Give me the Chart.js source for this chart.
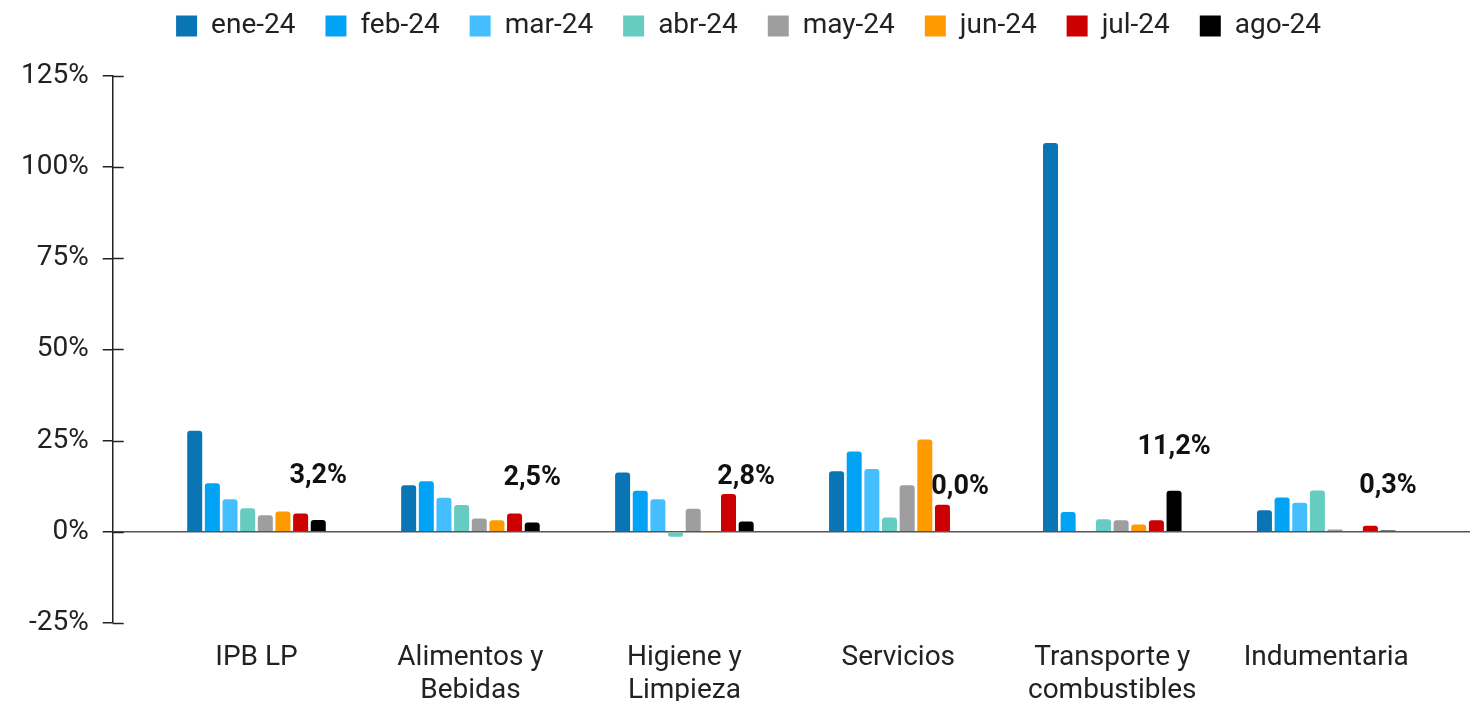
<!DOCTYPE html>
<html lang="es">
<head>
    <meta charset="UTF-8">
    <title>Variación por rubro</title>
    <script src="https://cdn.jsdelivr.net/npm/chart.js"></script>
    <style>
        body { margin: 0; background: #fff; }
    </style>
</head>
<body>
    <canvas id="barChart" width="1478" height="701"></canvas>
    <script>
// categorias y series (variacion mensual, %)
const categorias = ['IPB LP', ['Alimentos y', 'Bebidas'], ['Higiene y', 'Limpieza'], 'Servicios', ['Transporte y', 'combustibles'], 'Indumentaria'];
const meses = ['ene-24', 'feb-24', 'mar-24', 'abr-24', 'may-24', 'jun-24', 'jul-24', 'ago-24'];
const ene24 = [27.7, 12.7, 16.2, 16.6, 106.6, 5.9];
const feb24 = [13.3, 13.8, 11.2, 22.0, 5.4, 9.4];
const mar24 = [8.9, 9.3, 8.9, 17.2, 0, 7.9];
const abr24 = [6.4, 7.3, -1.4, 3.9, 3.4, 11.3];
const may24 = [4.5, 3.6, 6.3, 12.7, 3.1, 0.6];
const jun24 = [5.5, 3.1, -0.3, 25.3, 2.0, 0];
const jul24 = [5.0, 5.0, 10.3, 7.4, 3.1, 1.6];
const ago24 = [3.2, 2.5, 2.8, 0.0, 11.2, 0.3];
const colores = ['#0A75B5', '#02A3F5', '#45BEFF', '#66CCC2', '#9E9E9E', '#FF9A00', '#CC0000', '#000000'];
const yTicks = [-25, 0, 25, 50, 75, 100, 125];

const series = [ene24, feb24, mar24, abr24, may24, jun24, jul24, ago24];

// etiqueta del ultimo mes arriba de cada barra
const etiquetas = {
  id: 'etiquetas',
  afterDatasetsDraw(chart) {
    const ctx = chart.ctx;
    const last = chart.data.datasets.length - 1;
    const meta = chart.getDatasetMeta(last);
    ctx.save();
    ctx.font = 'bold 27px Roboto';
    ctx.fillStyle = '#111';
    ctx.textAlign = 'center';
    ctx.textBaseline = 'middle';
    meta.data.forEach((bar, i) => {
      const txt = ago24[i].toFixed(1).replace('.', ',') + '%';
      ctx.fillText(txt, bar.x, bar.y - 44);
    });
    ctx.restore();
  }
};

// las marcas del eje y cruzan la linea del eje
const marcasEje = {
  id: 'marcasEje',
  afterDraw(chart) {
    const ctx = chart.ctx;
    const y = chart.scales.y;
    ctx.save();
    ctx.strokeStyle = '#222';
    ctx.lineWidth = 1.5;
    y.ticks.forEach(t => {
      const py = Math.round(y.getPixelForValue(t.value)) + 0.5;
      ctx.beginPath();
      ctx.moveTo(chart.chartArea.left, py);
      ctx.lineTo(chart.chartArea.left + 11, py);
      ctx.stroke();
    });
    ctx.restore();
  }
};

// altura fija de la leyenda, y un poco corrida a la derecha
const alturaLeyenda = {
  id: 'alturaLeyenda',
  beforeInit(chart) {
    const fitOrig = chart.legend.fit;
    chart.legend.fit = function () {
      fitOrig.call(this);
      this.height = 94;
    };
  },
  afterLayout(chart) {
    chart.legend.left += 10;
    chart.legend.right += 10;
  }
};

const ctx = document.getElementById('barChart');
new Chart(ctx, {
  type: 'bar',
  data: {
    datasets: series.map((vals, k) => ({
      label: meses[k],
      data: vals.map((v, i) => ({ x: i, y: v })),
      backgroundColor: colores[k],
      borderRadius: 3,
      categoryPercentage: 0.66,
      barPercentage: 0.85
    }))
  },
  options: {
    responsive: false,
    animation: false,
    devicePixelRatio: 1,
    layout: { padding: { left: 7, right: 8, top: -18, bottom: -17 } },
    plugins: {
      legend: {
        position: 'top',
        labels: {
          font: { family: 'Roboto', size: 28 },
          color: '#222',
          boxWidth: 21,
          boxHeight: 21,
          padding: 30
        }
      },
      tooltip: { enabled: false }
    },
    scales: {
      x: {
        type: 'linear',
        min: -0.672,
        max: 5.672,
        bounds: 'data',
        offset: false,
        afterBuildTicks: scale => { scale.ticks = categorias.map((c, i) => ({ value: i })); },
        grid: { display: false, offset: false },
        border: { display: false },
        ticks: {
          autoSkip: false,
          maxRotation: 0,
          padding: 10,
          color: '#222',
          font: { family: 'Roboto', size: 28 },
          callback: v => categorias[v]
        }
      },
      y: {
        min: -25,
        max: 125,
        afterBuildTicks: scale => { scale.ticks = yTicks.map(v => ({ value: v })); },
        grid: {
          drawOnChartArea: true,
          color: c => c.tick && c.tick.value === 0 ? '#555' : 'rgba(0,0,0,0)',
          lineWidth: 1.5,
          tickColor: '#222',
          tickLength: 10
        },
        border: { color: '#222', width: 1.5 },
        ticks: {
          padding: 14,
          color: '#222',
          font: { family: 'Roboto', size: 28 },
          callback: v => v + '%'
        }
      }
    }
  },
  plugins: [etiquetas, marcasEje, alturaLeyenda]
});
    </script>
</body>
</html>
